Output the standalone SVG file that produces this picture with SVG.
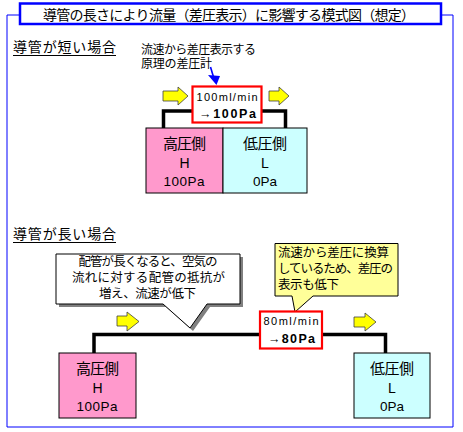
<svg xmlns="http://www.w3.org/2000/svg" width="463" height="432" viewBox="0 0 463 432">
<style>
text{font-family:"Noto Sans CJK JP","Liberation Sans",sans-serif;fill:#000}
.lat{font-family:"Liberation Sans","Noto Sans CJK JP",sans-serif}
.pipe{fill:none;stroke:#000;stroke-width:3.5;stroke-linejoin:miter}
.yarrow{fill:#FFFF00;stroke:#404040;stroke-width:0.8}
.meter{fill:#fff;stroke:#FF0000;stroke-width:2.2}
.hbox{fill:#FF99CC;stroke:#000;stroke-width:1}
.lbox{fill:#CCFFFF;stroke:#000;stroke-width:1}
</style>
<rect width="463" height="432" fill="#fff"/>
<g id="frame">
<polyline points="20,15 7,15 7,427 453,427 453,15 441,15" fill="none" stroke="#0000FF" stroke-width="1"/>
</g>
<g id="title">
<rect x="20" y="3.5" width="421" height="20.5" fill="#fff" stroke="#0000FF" stroke-width="2.5"/>
<text x="43" y="19.5" font-size="14" textLength="372" lengthAdjust="spacing">導管の長さにより流量（差圧表示）に影響する模式図（想定）</text>
</g>
<g id="section-short">
<text x="13" y="52" font-size="14" textLength="103" lengthAdjust="spacing">導管が短い場合</text>
<line x1="13" y1="55.5" x2="116" y2="55.5" stroke="#000" stroke-width="1"/>
</g>
<g id="connectors">
<polyline class="pipe" points="163.5,128 163.5,111 192,111"/>
<polyline class="pipe" points="262,111 285.5,111 285.5,128"/>
<polyline class="pipe" points="94,353 94,334.5 260,334.5"/>
<polyline class="pipe" points="322,334.5 385.5,334.5 385.5,353"/>
<line x1="210.5" y1="67" x2="213.5" y2="77" stroke="#0000FF" stroke-width="1.6"/>
<polygon points="208,75 220,76 216.5,85" fill="#0000FF"/>
</g>
<g id="note-meter">
<text font-size="12"><tspan x="141" y="54" textLength="115" lengthAdjust="spacing">流速から差圧表示する</tspan><tspan x="141" y="68" textLength="71" lengthAdjust="spacing">原理の差圧計</tspan></text>
</g>
<g id="flow-arrows-short">
<polygon class="yarrow" points="163,91 178,91 178,87 188,96 178,105 178,101 163,101"/>
<polygon class="yarrow" points="269,91 279,91 279,87 289,96 279,105 279,101 269,101"/>
</g>
<g id="meter-short">
<rect class="meter" x="192.5" y="86.5" width="69" height="36"/>
<text class="lat" text-anchor="middle"><tspan x="227" y="100.5" font-size="11" textLength="61" lengthAdjust="spacing">100ml/min</tspan><tspan x="227.5" y="118" font-size="12.5" font-weight="bold" textLength="57" lengthAdjust="spacing">→100Pa</tspan></text>
</g>
<g id="high-short">
<rect class="hbox" x="146" y="128" width="77" height="65"/>
<text text-anchor="middle"><tspan x="184.5" y="149" font-size="15" textLength="43" lengthAdjust="spacing">高圧側</tspan><tspan class="lat" x="184.5" y="168" font-size="14">H</tspan><tspan class="lat" x="184" y="186" font-size="13.5" textLength="41" lengthAdjust="spacing">100Pa</tspan></text>
</g>
<g id="low-short">
<rect class="lbox" x="223" y="128" width="84" height="65"/>
<text text-anchor="middle"><tspan x="265" y="149" font-size="15" textLength="44" lengthAdjust="spacing">低圧側</tspan><tspan class="lat" x="265" y="168" font-size="14">L</tspan><tspan class="lat" x="265" y="186" font-size="13.5" textLength="24" lengthAdjust="spacing">0Pa</tspan></text>
</g>
<g id="section-long">
<text x="13" y="239" font-size="14" textLength="103" lengthAdjust="spacing">導管が長い場合</text>
<line x1="13" y1="242.5" x2="116" y2="242.5" stroke="#000" stroke-width="1"/>
</g>
<g id="callout-resistance">
<polygon points="59,257 243,257 243,307 210,307 193,331 166,307 59,307" fill="#808080"/>
<polygon points="56,254 240,254 240,304 207,304 190,328 163,304 56,304" fill="#fff" stroke="#000" stroke-width="1"/>
<text font-size="12.5" text-anchor="middle"><tspan x="148" y="266" textLength="139" lengthAdjust="spacing">配管が長くなると、空気の</tspan><tspan x="148.5" y="282" textLength="153" lengthAdjust="spacing">流れに対する配管の抵抗が</tspan><tspan x="147.5" y="298" textLength="97" lengthAdjust="spacing">増え、流速が低下</tspan></text>
</g>
<g id="callout-display">
<polygon points="275,243.5 398,243.5 398,296 313,296 295,312 292,296 275,296" fill="#FFFF99" stroke="#000" stroke-width="1"/>
<text font-size="12.5"><tspan x="278" y="257" textLength="111" lengthAdjust="spacing">流速から差圧に換算</tspan><tspan x="278" y="273" textLength="115" lengthAdjust="spacing">しているため、差圧の</tspan><tspan x="278" y="289" textLength="61" lengthAdjust="spacing">表示も低下</tspan></text>
</g>
<g id="flow-arrows-long">
<polygon class="yarrow" points="117,316 127,316 127,312 139,321.5 127,331 127,326 117,326"/>
<polygon class="yarrow" points="354,317 365,317 365,313 376,322 365,331 365,327 354,327"/>
</g>
<g id="meter-long">
<rect class="meter" x="260" y="311.5" width="62" height="37"/>
<text class="lat" text-anchor="middle"><tspan x="291" y="325" font-size="11" textLength="55" lengthAdjust="spacing">80ml/min</tspan><tspan x="291.5" y="342.5" font-size="12.5" font-weight="bold" textLength="47" lengthAdjust="spacing">→80Pa</tspan></text>
</g>
<g id="high-long">
<rect class="hbox" x="59" y="353" width="77" height="65"/>
<text text-anchor="middle"><tspan x="97.5" y="374" font-size="15" textLength="43" lengthAdjust="spacing">高圧側</tspan><tspan class="lat" x="97.5" y="393" font-size="14">H</tspan><tspan class="lat" x="97" y="411" font-size="13.5" textLength="41" lengthAdjust="spacing">100Pa</tspan></text>
</g>
<g id="low-long">
<rect class="lbox" x="354" y="353" width="76" height="65"/>
<text text-anchor="middle"><tspan x="392" y="374" font-size="15" textLength="44" lengthAdjust="spacing">低圧側</tspan><tspan class="lat" x="392" y="393" font-size="14">L</tspan><tspan class="lat" x="392" y="411" font-size="13.5" textLength="24" lengthAdjust="spacing">0Pa</tspan></text>
</g>
</svg>
